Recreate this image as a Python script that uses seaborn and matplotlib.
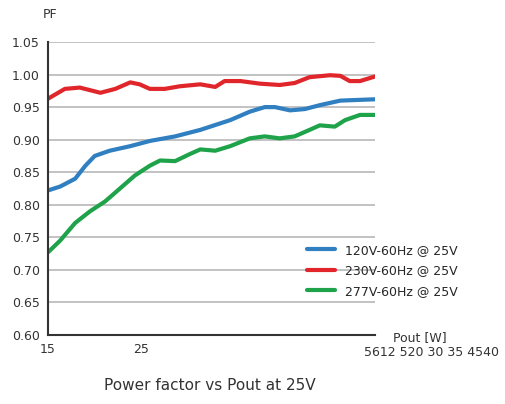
import pandas as pd
import matplotlib.pyplot as plt
import seaborn as sns

blue_x = [15, 16.3, 17.9, 19.0, 20.0, 21.6, 23.8, 25.9, 28.6, 31.3, 34.5, 36.6, 38.2, 39.3, 40.9, 42.5, 44.1, 46.3, 50]
blue_y = [0.822, 0.828, 0.840, 0.860, 0.875, 0.883, 0.890, 0.898, 0.905, 0.915, 0.930, 0.943, 0.950, 0.950, 0.945, 0.947, 0.953, 0.960, 0.962]
red_x = [15, 16.8, 18.4, 20.6, 22.2, 23.8, 24.8, 25.9, 27.5, 29.1, 31.3, 32.9, 33.9, 35.6, 37.7, 39.8, 41.4, 43.0, 45.2, 46.3, 47.3, 48.4, 50]
red_y = [0.963, 0.978, 0.980, 0.972, 0.978, 0.988, 0.985, 0.978, 0.978, 0.982, 0.985, 0.981, 0.990, 0.990, 0.986, 0.984, 0.987, 0.996, 0.999, 0.998, 0.990, 0.990, 0.997]
green_x = [15, 16.3, 17.9, 19.5, 21.1, 22.7, 24.3, 25.9, 27.0, 28.6, 30.2, 31.3, 32.9, 34.5, 36.6, 38.2, 39.8, 41.4, 43.0, 44.1, 45.7, 46.8, 48.4, 50]
green_y = [0.727, 0.745, 0.772, 0.790, 0.805, 0.825, 0.845, 0.860, 0.868, 0.867, 0.878, 0.885, 0.883, 0.890, 0.902, 0.905, 0.902, 0.905, 0.915, 0.922, 0.920, 0.930, 0.938, 0.938]
series_names = ["120V-60Hz @ 25V", "230V-60Hz @ 25V", "277V-60Hz @ 25V"]
colors = ["#2f7fc1", "#e0262b", "#1fa34a"]
y_ticks = [0.60, 0.65, 0.70, 0.75, 0.80, 0.85, 0.90, 0.95, 1.00, 1.05]
x_ticks = [15, 20, 25, 30, 35, 40, 45, 50]
x_labels = ["15", "", "25", "", "", "", "", ""]

df = pd.concat([
    pd.DataFrame({"Pout": blue_x, "PF": blue_y, "s": series_names[0]}),
    pd.DataFrame({"Pout": red_x, "PF": red_y, "s": series_names[1]}),
    pd.DataFrame({"Pout": green_x, "PF": green_y, "s": series_names[2]}),
])

sns.set_style("white")
fig = plt.figure(figsize=(5.06, 4.04), dpi=100)
ax = fig.add_axes([0.095, 0.171, 0.646, 0.725])
sns.lineplot(data=df, x="Pout", y="PF", hue="s", palette=dict(zip(series_names, colors)),
             linewidth=3, ax=ax, legend=False)

ax.set_xlim(15, 50)
ax.set_ylim(0.60, 1.05)
ax.set_yticks(y_ticks)
ax.set_yticklabels([f"{v:.2f}" for v in y_ticks], fontsize=9, color="#333333")
ax.set_xticks(x_ticks)
ax.set_xticklabels(x_labels, fontsize=9, color="#333333")
ax.tick_params(axis="both", direction="inout", length=5, width=1.2, color="#333333")
ax.yaxis.grid(True, color="#b8b8b8", linewidth=1.2)
for s in ["top", "right"]:
    ax.spines[s].set_visible(False)
for s in ["left", "bottom"]:
    ax.spines[s].set_linewidth(1.5)
    ax.spines[s].set_color("#333333")
ax.set_xlabel("")
ax.set_ylabel("")

fig.text(0.085, 0.955, "PF", fontsize=9, color="#333333")
fig.text(0.83, 0.155, "Pout [W]", fontsize=9, color="#333333", ha="center")
fig.text(0.72, 0.12, "5612 520 30 35 4540", fontsize=9, color="#333333")
fig.text(0.415, 0.035, "Power factor vs Pout at 25V", fontsize=11, color="#333333", ha="center")

handles = [plt.Line2D([], [], color=c, linewidth=3) for c in colors]
fig.legend(handles, series_names, loc="upper left", bbox_to_anchor=(0.585, 0.425),
           frameon=False, fontsize=9, handlelength=2.2, labelspacing=0.6)

fig.savefig("out.png", dpi=100)
